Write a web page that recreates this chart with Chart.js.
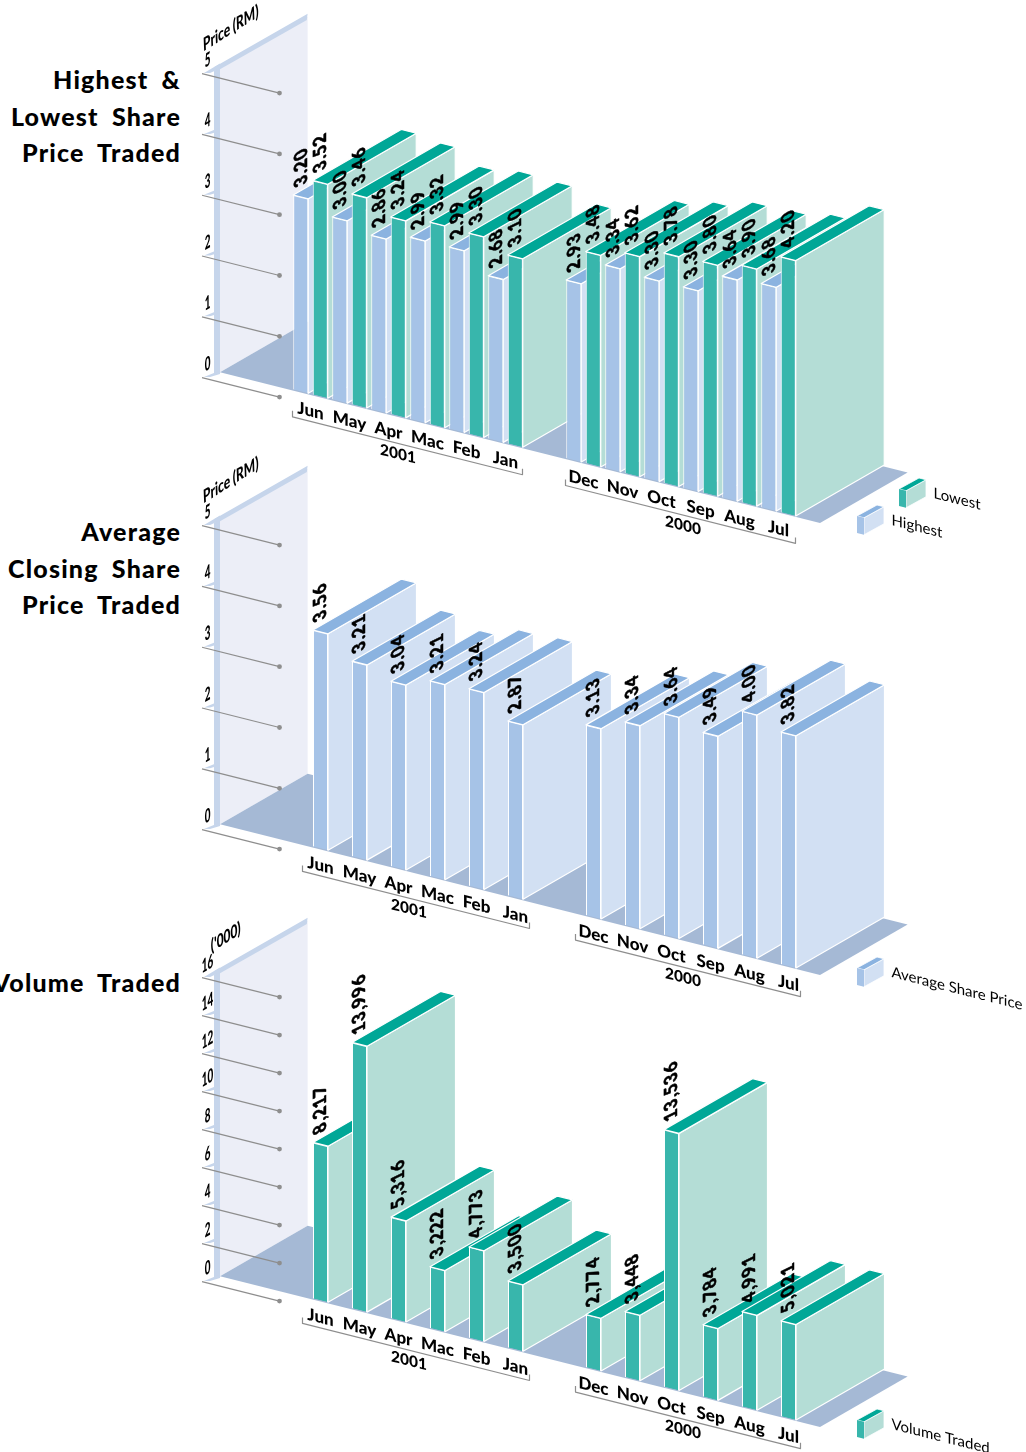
<!DOCTYPE html>
<html>
  <head>
    <title>Share Price and Volume Traded</title>
    <style>
      html, body { margin: 0; padding: 0; background: #fff; }
      html { width: 1026px; height: 1452px; overflow: hidden; }
      body { position: relative; width: 1026px; height: 1452px; overflow: hidden; font-family: Lato, sans-serif; }
      canvas { position: absolute; left: 0; width: 1026px; height: 570px; }
      .heading {
        position: absolute; right: 845px; text-align: right; white-space: nowrap; color: #000;
        font-weight: 900; font-size: 25px; line-height: 36.7px; letter-spacing: 1.2px; word-spacing: 6px;
      }
    </style>
  </head>
  <body>
    <div class="heading" style="top:61px">Highest &amp;<br>Lowest Share<br>Price Traded</div>
    <div class="heading" style="top:513px">Average<br>Closing Share<br>Price Traded</div>
    <div class="heading" style="top:964px">Volume Traded</div>

    <canvas id="priceChart" width="1026" height="570" style="top:0"></canvas>
    <canvas id="closingChart" width="1026" height="570" style="top:452px"></canvas>
    <canvas id="volumeChart" width="1026" height="570" style="top:904px"></canvas>

    <script src="https://cdnjs.cloudflare.com/ajax/libs/Chart.js/4.4.1/chart.umd.min.js"></script>
    <script>
      const months = ["Jun", "May", "Apr", "Mac", "Feb", "Jan", "", "Dec", "Nov", "Oct", "Sep", "Aug", "Jul"];
      const years = ["2001", "2000"];

      const highest = [3.20, 3.00, 2.86, 2.99, 2.99, 2.68, null, 2.93, 3.34, 3.30, 3.30, 3.64, 3.68];
      const lowest = [3.52, 3.46, 3.24, 3.32, 3.30, 3.10, null, 3.48, 3.62, 3.78, 3.80, 3.90, 4.20];
      const averageClose = [3.56, 3.21, 3.04, 3.21, 3.24, 2.87, null, 3.13, 3.34, 3.64, 3.49, 4.00, 3.82];
      const volume = [8217, 13996, 5316, 3222, 4773, 3500, null, 2774, 3448, 13536, 3784, 4991, 5021];

      const BLUE = { front: "#a6c3e7", top: "#8bb3e0", side: "#d2e0f3" };
      const TEAL = { front: "#38b6ac", top: "#00a797", side: "#b4ddd6" };
      const FONT = "Lato, sans-serif";

      // slope of the month direction and the vector of the depth direction
      const SHEAR = 0.2515;
      const X0 = 295;
      const DEPTH = { x: 88.5, y: -51 };

      function pt(x, y, d) {
        d = d || 0;
        return [x + d * DEPTH.x, y + SHEAR * (x - X0) + d * DEPTH.y];
      }

      function poly(ctx, points, fill, stroke, lw) {
        ctx.beginPath();
        points.forEach((p, i) => (i ? ctx.lineTo(p[0], p[1]) : ctx.moveTo(p[0], p[1])));
        ctx.closePath();
        if (fill) {
          ctx.fillStyle = fill;
          ctx.fill();
        }
        if (stroke) {
          ctx.strokeStyle = stroke;
          ctx.lineWidth = lw || 1;
          ctx.lineJoin = "round";
          ctx.stroke();
        }
      }

      function line(ctx, a, b, color, lw) {
        ctx.beginPath();
        ctx.moveTo(a[0], a[1]);
        ctx.lineTo(b[0], b[1]);
        ctx.strokeStyle = color;
        ctx.lineWidth = lw;
        ctx.stroke();
      }

      function skewText(ctx, text, x, y, m, font, align, baseline, heavy) {
        ctx.save();
        ctx.transform(m[0], m[1], m[2], m[3], x, y);
        ctx.font = font;
        ctx.fillStyle = "#000";
        ctx.textAlign = align || "left";
        ctx.textBaseline = baseline || "alphabetic";
        if (heavy) {
          ctx.letterSpacing = "0.9px";
          ctx.strokeStyle = "#000";
          ctx.lineWidth = heavy;
          ctx.strokeText(text, 0, 0);
        }
        ctx.fillText(text, 0, 0);
        ctx.restore();
      }

      function drawWall(chart, cfg) {
        const ctx = chart.ctx;
        const y = chart.scales.y;
        const yz = y.getPixelForValue(0);
        const yt = y.getPixelForValue(y.max);
        const wx = 220;
        const GREY = "#8e8e8e";
        const BAND = "#c6d5eb";

        // back wall and floor
        poly(ctx, [pt(wx, yz + 1), pt(wx, yz + 1, 0.99), pt(wx, yt, 0.99), pt(wx, yt)], "#eceef7");
        poly(ctx, [pt(wx, yz + 1), pt(820, yz + 1), pt(820, yz + 1, 0.99), pt(wx, yz + 1, 0.99)], "#a5b9d5");
        poly(ctx, [[214, yt - 15], [wx, yt - 18.9], [wx, yz - 18], [214, yz - 15]], BAND);
        poly(ctx, [pt(wx - 6, yt + 1.5), pt(wx, yt - 3, 0.99), pt(wx + 1, yt + 2, 0.97), pt(wx, yt + 2)], BAND);

        // tick lines, the ledges behind them and the tilted tick labels
        y.ticks.forEach((tick) => {
          const ty = y.getPixelForValue(tick.value);
          const a = pt(202, ty + 11);
          const b = pt(279.5, ty + 11);
          const rise = tick.value === y.max ? [10, 5] : [7, 3.5];
          poly(ctx, [[a[0] + 2, a[1] - 0.5], [wx, a[1] - rise[0]], [wx, a[1] - rise[1]], [a[0] + 8, a[1] - 0.5]], BAND);
          line(ctx, a, b, GREY, 1.2);
          ctx.beginPath();
          ctx.arc(b[0], b[1], 2.4, 0, Math.PI * 2);
          ctx.fillStyle = GREY;
          ctx.fill();
          skewText(ctx, tick.label, 207.5, a[1] - 7.5, [0.52, -0.3, 0, 1], "900 19px " + FONT, "center");
        });

        // unit caption above the axis
        skewText(ctx, cfg.unit, cfg.unitAt[0], cfg.unitAt[1], [0.66, -0.42, 0.04, 1], "900 18px " + FONT, "center");
      }

      function drawBar(ctx, el, colors) {
        const half = el.width / 2;
        const l = el.x - half;
        const r = el.x + half;
        const top = el.y;
        const base = el.base;
        poly(ctx, [pt(r, top), pt(r, top, 1), pt(r, base, 1), pt(r, base)], colors.side, "#fff", 1.2);
        poly(ctx, [pt(l, top), pt(r, top), pt(r, top, 1), pt(l, top, 1)], colors.top, "#fff", 1.2);
        // the front face comes from the library, through the month shear
        ctx.save();
        ctx.transform(1, SHEAR, 0, 1, 0, -SHEAR * X0);
        el.draw(ctx);
        ctx.restore();
      }

      function drawGroups(chart, cfg) {
        const ctx = chart.ctx;
        const x = chart.scales.x;
        const yz = chart.scales.y.getPixelForValue(0);
        const GREY = "#8e8e8e";
        [[0, 5], [7, 12]].forEach((range, i) => {
          const l = x.getPixelForValue(range[0]) + cfg.bracket[i][0];
          const r = x.getPixelForValue(range[1]) + cfg.bracket[i][1];
          const a = pt(l, yz + 27.5);
          const b = pt(r, yz + 27.5);
          ctx.beginPath();
          ctx.moveTo(a[0], a[1] - 6);
          ctx.lineTo(a[0], a[1]);
          ctx.lineTo(b[0], b[1]);
          ctx.lineTo(b[0], b[1] - 6);
          ctx.strokeStyle = GREY;
          ctx.lineWidth = 1.2;
          ctx.stroke();
          const cx = (x.getPixelForValue(range[0]) + x.getPixelForValue(range[1])) / 2 + cfg.yearShift[i];
          const c = pt(cx, yz + 43);
          skewText(ctx, years[i], c[0], c[1], [1, SHEAR, 0, 1], "900 15.5px " + FONT, "center");
        });
      }

      function drawLegend(chart, cfg) {
        const ctx = chart.ctx;
        cfg.legend.forEach((item) => {
          const ds = chart.data.datasets[item.dataset];
          const colors = ds.faces;
          const lx = item.at[0];
          const ly = item.at[1];
          const P = (x, y, d) => [x + d * 20, y + SHEAR * (x - lx) - d * 11];
          const h = 17;
          const w = 7;
          poly(ctx, [P(lx + w, ly, 0), P(lx + w, ly, 1), P(lx + w, ly + h, 1), P(lx + w, ly + h, 0)], colors.side, "#fff", 0.8);
          poly(ctx, [P(lx, ly, 0), P(lx + w, ly, 0), P(lx + w, ly, 1), P(lx, ly, 1)], colors.top, "#fff", 0.8);
          poly(ctx, [P(lx, ly, 0), P(lx + w, ly, 0), P(lx + w, ly + h, 0), P(lx, ly + h, 0)], colors.front);
          skewText(ctx, ds.label, lx + 34.5, ly + 9, [1, SHEAR, 0, 1], "15px " + FONT);
        });
      }

      // value labels lie on the side wall, reading upwards
      function drawValues(chart, cfg) {
        const ctx = chart.ctx;
        chart.data.datasets.forEach((ds, di) => {
          chart.getDatasetMeta(di).data.forEach((el, i) => {
            if (ds.data[i] === null) return;
            const p = pt(el.x, el.y - 11);
            skewText(ctx, cfg.format(ds.data[i]), p[0], p[1], [0, -0.95, 1.0, -0.5], "900 18px " + FONT, "left", "middle", 0.5);
          });
        });
      }

      function isoPlugin(cfg) {
        return {
          id: "iso",
          beforeDraw(chart) {
            // axis labels pick up the month shear
            chart.ctx.save();
            chart.ctx.transform(1, SHEAR, 0, 1, 0, -SHEAR * X0);
          },
          beforeDatasetsDraw(chart) {
            const ctx = chart.ctx;
            ctx.restore();
            drawWall(chart, cfg);
            months.forEach((m, i) => {
              chart.data.datasets.forEach((ds, di) => {
                if (ds.data[i] === null) return;
                drawBar(ctx, chart.getDatasetMeta(di).data[i], ds.faces);
              });
            });
            drawGroups(chart, cfg);
            drawLegend(chart, cfg);
            drawValues(chart, cfg);
            return false;
          },
        };
      }

      function makeChart(id, datasets, yMax, yStep, left, barPct, cfg, tickFmt) {
        const sets = datasets.map((d) => ({
          label: d.label,
          data: d.data,
          faces: d.faces,
          backgroundColor: d.faces.front,
          borderColor: "#fff",
          borderWidth: 1,
          barPercentage: barPct,
          categoryPercentage: 1,
          clip: false,
        }));
        return new Chart(document.getElementById(id), {
          type: "bar",
          data: { labels: months, datasets: sets },
          options: {
            responsive: false,
            animation: false,
            layout: { padding: { left: left, right: 1026 - left - 507, top: 86, bottom: 140 } },
            plugins: { legend: { display: false }, tooltip: { enabled: false } },
            scales: {
              x: {
                grid: { display: false },
                border: { display: false },
                afterFit: (s) => { s.height = 40; },
                ticks: {
                  autoSkip: false,
                  maxRotation: 0,
                  minRotation: 0,
                  padding: -1,
                  color: "#000",
                  font: { family: FONT, size: 17, weight: "900" },
                },
              },
              y: {
                min: 0,
                max: yMax,
                grid: { display: false },
                border: { display: false },
                afterFit: (s) => { s.width = 0; },
                ticks: { display: false, stepSize: yStep, callback: tickFmt },
              },
            },
          },
          plugins: [isoPlugin(cfg)],
        });
      }

      makeChart("priceChart",
        [{ label: "Highest", data: highest, faces: BLUE }, { label: "Lowest", data: lowest, faces: TEAL }],
        5, 1, 291, 0.77,
        {
          unit: "Price (RM)", unitAt: [231, 34],
          bracket: [[-18, 17], [-18, 17]], yearShift: [-10, 2],
          legend: [{ dataset: 1, at: [899, 489] }, { dataset: 0, at: [857, 516] }],
          format: (v) => v.toFixed(2),
        },
        (v) => String(v));

      makeChart("closingChart",
        [{ label: "Average Share Price", data: averageClose, faces: BLUE }],
        5, 1, 301, 0.385,
        {
          unit: "Price (RM)", unitAt: [231, 34],
          bracket: [[-18, 14], [-18, 12]], yearShift: [-9, -8],
          legend: [{ dataset: 0, at: [857, 516] }],
          format: (v) => v.toFixed(2),
        },
        (v) => String(v));

      makeChart("volumeChart",
        [{ label: "Volume Traded", data: volume, faces: TEAL }],
        16000, 2000, 301, 0.385,
        {
          unit: "('000)", unitAt: [226, 39],
          bracket: [[-18, 14], [-18, 12]], yearShift: [-9, -8],
          legend: [{ dataset: 0, at: [857, 516] }],
          format: (v) => v.toLocaleString("en-US"),
        },
        (v) => String(v / 1000));
    </script>
  </body>
</html>
